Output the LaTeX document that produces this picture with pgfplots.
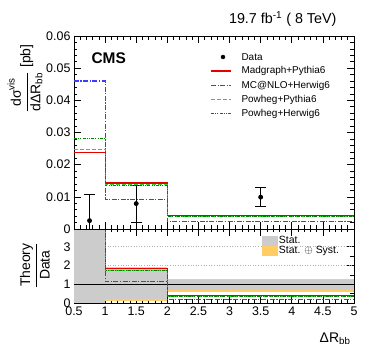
\documentclass[border=0pt]{standalone}
\usepackage{pgfplots}
\pgfplotsset{compat=1.18}
\usetikzlibrary{calc}
\usepackage{amsmath}
\usepackage{fontspec}
\setmainfont{Liberation Sans}

\definecolor{mcred}{RGB}{230,0,0}
\definecolor{mcblue}{RGB}{60,60,255}
\definecolor{mcgreen}{RGB}{30,220,30}
\definecolor{mcdkgreen}{RGB}{0,130,0}
\definecolor{statgrey}{RGB}{204,204,204}
\definecolor{systyel}{RGB}{255,204,102}

\tikzset{
  lred/.style={draw=mcred, line width=1.1bp},
  lblue/.style={draw=mcblue, line width=1.1bp, dash pattern=on 5bp off 1.5bp on 1.2bp off 1.5bp},
  lgreen/.style={draw=mcgreen, line width=1.1bp, dash pattern=on 4bp off 2bp},
  ldkgreen/.style={draw=mcdkgreen, line width=1.1bp, dash pattern=on 3bp off 1.2bp on 1bp off 1.2bp on 1bp off 1.2bp},
  legtext/.style={font=\fontsize{10}{12}\selectfont, anchor=west},
}
\pgfplotsset{
  rootframe/.style={
    scale only axis, width=280bp,
    xmin=0.5, xmax=5,
    axis line style={line width=0.8bp},
    tick style={line width=0.6bp, black},
    major tick length=7bp, minor tick length=3.5bp,
    xtick={0.5,1,...,5}, minor x tick num=4,
    xtick pos=both, ytick pos=both,
    tick align=inside,
    scaled y ticks=false,
    /pgf/number format/assume math mode=true,
    tick label style={font=\fontsize{12.5}{14}\selectfont},
  },
}

\begin{document}
\begin{tikzpicture}
\path[use as bounding box] (-74bp,-55bp) rectangle (299bp,303bp);

% ---- ratio panel
\begin{axis}[rootframe,
  at={(0,0)}, anchor=south west,
  height=74bp,
  ymin=0, ymax=3.95,
  ytick={0,1,2,3}, minor y tick num=1,
  ylabel={$\dfrac{\text{Theory}}{\text{Data}}$},
  ylabel style={font=\fontsize{14}{16}\selectfont, at={(axis description cs:-0.14,0.51)}, anchor=center},
  xlabel={ΔR$_{\text{bb}}$},
  xlabel style={font=\fontsize{14}{16}\selectfont, at={(axis description cs:1,-0.35)}, anchor=north east},
  legend style={at={(axis description cs:0.671,0.93)}, anchor=north west, draw=none, fill=none,
    font=\fontsize{10.5}{12}\selectfont, row sep=-1.5bp, inner sep=0pt,
    nodes={inner sep=1.5bp}},
  legend cell align=left,
]
% stat (+) syst bands
\addplot[fill=systyel, draw=none, forget plot] coordinates {(0.5,0) (1,0) (1,3.95) (0.5,3.95)} -- cycle;
\addplot[fill=systyel, draw=none, forget plot] coordinates {(1,0.10) (2,0.10) (2,1.90) (1,1.90)} -- cycle;
\addplot[fill=systyel, draw=none, forget plot] coordinates {(2,0.59) (5,0.59) (5,1.29) (2,1.29)} -- cycle;
% stat bands
\addplot[fill=statgrey, draw=none, forget plot] coordinates {(0.5,0) (1,0) (1,3.95) (0.5,3.95)} -- cycle;
\addplot[fill=statgrey, draw=none, forget plot] coordinates {(1,0.22) (2,0.22) (2,1.78) (1,1.78)} -- cycle;
\addplot[fill=statgrey, draw=none, forget plot] coordinates {(2,0.67) (5,0.67) (5,1.23) (2,1.23)} -- cycle;
% grid lines
\addplot[gray!60, dotted, line width=0.6bp, forget plot] coordinates {(1,2) (5,2)};
\addplot[gray!60, dotted, line width=0.6bp, forget plot] coordinates {(1,3) (5,3)};
\addplot[black, line width=0.6bp, forget plot] coordinates {(0.5,1) (5,1)};
% theory / data
\addplot[lred, const plot, forget plot] coordinates {(0.5,9.15) (1,1.82) (2,0.38) (5,0.38)};
\addplot[lblue, const plot, forget plot] coordinates {(0.5,17.7) (1,1.14) (2,0.17) (5,0.17)};
\addplot[lgreen, const plot, forget plot] coordinates {(0.5,9.5) (1,1.75) (2,0.37) (5,0.37)};
\addplot[ldkgreen, const plot, forget plot] coordinates {(0.5,10.8) (1,1.74) (2,0.36) (5,0.36)};
\addlegendimage{legend image code/.code={\fill[statgrey] (0bp,-4.5bp) rectangle (15bp,4.5bp);}}
\addlegendentry{Stat.}
\addlegendimage{legend image code/.code={\fill[systyel] (0bp,-4.5bp) rectangle (15bp,4.5bp);}}
\addlegendentry{Stat. $\oplus$ Syst.}
\end{axis}

% ---- main panel
\begin{axis}[rootframe, name=main,
  at={(0,74bp)}, anchor=south west,
  height=193bp,
  ymin=0, ymax=0.06,
  ytick={0,0.01,0.02,0.03,0.04,0.05,0.06},
  yticklabels={0,0.01,0.02,0.03,0.04,0.05,0.06},
  minor y tick num=4,
  xticklabels={},
  ylabel={$\dfrac{\text{dσ}^{\text{vis}}}{\text{dΔR}_{\text{bb}}}$ [pb]},
  ylabel style={font=\fontsize{14}{16}\selectfont, at={(axis description cs:-0.175,0.78)}, anchor=center},
]
\addplot[black, only marks, mark=*, mark size=2bp, line width=0.8bp, forget plot,
  error bars/.cd, y dir=both, y explicit,
  error mark options={rotate=90, mark size=5.5bp, line width=0.8bp}]
  coordinates {(0.75,0.0026) +- (0,0.0083) (1.5,0.0079) +- (0,0.0058) (3.5,0.0099) +- (0,0.0030)};
\addplot[lred, const plot, forget plot] coordinates {(0.5,0.0238) (1,0.0143) (2,0.0042) (5,0.0042)};
\addplot[lblue, const plot, forget plot] coordinates {(0.5,0.0460) (1,0.0091) (2,0.0022) (5,0.0022)};
\addplot[lgreen, const plot, forget plot] coordinates {(0.5,0.0248) (1,0.0137) (2,0.0040) (5,0.0040)};
\addplot[ldkgreen, const plot, forget plot] coordinates {(0.5,0.0281) (1,0.0135) (2,0.0039) (5,0.0039)};
\node[font=\fontsize{15.5}{17}\selectfont\bfseries, anchor=west] at (axis description cs:0.05,0.885) {CMS};
\end{axis}

% ---- legend of the main panel, on a hidden axis in points
\begin{axis}[at={(0,74bp)}, anchor=south west, scale only axis,
  width=280bp, height=193bp, xmin=0, xmax=280, ymin=0, ymax=193,
  hide axis, clip=false]
\addplot[black, only marks, mark=*, mark size=2bp] coordinates {(149,172)};
\addplot[lred] coordinates {(137,158) (157,158)};
\addplot[lblue] coordinates {(137,143.5) (157,143.5)};
\addplot[lgreen] coordinates {(137,129.3) (157,129.3)};
\addplot[ldkgreen] coordinates {(137,115.3) (157,115.3)};
\node[legtext] at (axis cs:164,172) {Data};
\node[legtext] at (axis cs:164,158) {Madgraph+Pythia6};
\node[legtext] at (axis cs:164,143.5) {MC@NLO+Herwig6};
\node[legtext] at (axis cs:164,129.3) {Powheg+Pythia6};
\node[legtext] at (axis cs:164,115.3) {Powheg+Herwig6};
\end{axis}
\node[font=\fontsize{14.4}{16}\selectfont, anchor=base east] at ($(main.north east)+(-14bp,12.5bp)$) {19.7 fb$^{\text{-1}}$ ( 8 TeV)};
\end{tikzpicture}
\end{document}
